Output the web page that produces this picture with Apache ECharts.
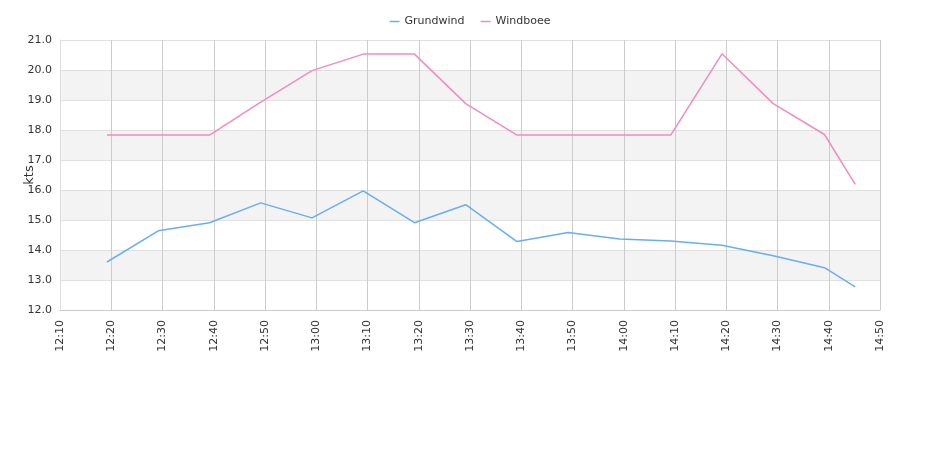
<!DOCTYPE html>
<html><head><meta charset="utf-8">
<script src="https://cdn.jsdelivr.net/npm/echarts@6/dist/echarts.min.js"></script>
<style>html,body{margin:0;padding:0;background:#fff}#c{width:940px;height:450px}</style>
</head><body><div id="c"></div>
<script>
const times = ['12:19:10','12:29:10','12:39:10','12:49:10','12:59:10','13:09:10','13:19:10','13:29:10','13:39:10','13:49:10','13:59:10','14:09:10','14:19:10','14:29:10','14:39:10','14:45:10'];
const grundwind = [13.6,14.64,14.91,15.57,15.07,15.97,14.91,15.51,14.28,14.58,14.37,14.3,14.16,13.81,13.41,12.77];
const windboee = [17.83,17.83,17.83,18.93,19.98,20.53,20.53,18.88,17.83,17.83,17.83,17.83,20.54,18.88,17.85,16.19];
const xMin = '12:10', xMax = '14:50';
const seriesNames = ['Grundwind','Windboee'];

function toMin(t){const p=t.split(':').map(Number);return p[0]*60+p[1]+(p[2]||0)/60;}
function fmt(v){const h=Math.floor(v/60),m=Math.round(v%60);return h+':'+(m<10?'0':'')+m;}

const chart = echarts.init(document.getElementById('c'));
const font = 'DejaVu Sans';
chart.setOption({
  animation:false,
  textStyle:{fontFamily:font},
  legend:{top:11,left:'center',icon:'rect',itemWidth:10,itemHeight:1.5,itemGap:16,
    textStyle:{fontSize:11,color:'#333',fontFamily:font},data:seriesNames},
  grid:{left:60,right:60,top:40,bottom:140,containLabel:false,outerBoundsMode:'none'},
  xAxis:{type:'value',min:toMin(xMin),max:toMin(xMax),interval:10,
    axisLine:{lineStyle:{color:'#ccc'}},axisTick:{show:false},
    axisLabel:{rotate:90,formatter:fmt,color:'#333',fontSize:11,fontFamily:font,margin:10},
    splitLine:{show:true,lineStyle:{color:'#ccc'}}},
  yAxis:{type:'value',min:12,max:21,interval:1,name:'kts',nameLocation:'middle',nameGap:24,nameMoveOverlap:false,
    nameTextStyle:{fontSize:13,color:'#333',fontFamily:font},
    axisLine:{show:true,lineStyle:{color:'#ddd'}},axisTick:{show:false},
    axisLabel:{formatter:v=>v.toFixed(1),color:'#333',fontSize:11,fontFamily:font},
    splitLine:{lineStyle:{color:'#e0e0e0'}},
    splitArea:{show:true,areaStyle:{color:['#ffffff','#f3f3f3']}}},
  series:[
    {name:seriesNames[0],type:'line',symbol:'none',color:'#6aaef2',lineStyle:{width:1.5,color:'#6aaef2'},
     data:times.map((t,i)=>[toMin(t),grundwind[i]])},
    {name:seriesNames[1],type:'line',symbol:'none',color:'#f08cc0',lineStyle:{width:1.5,color:'#f08cc0'},
     data:times.map((t,i)=>[toMin(t),windboee[i]])}
  ]
});
</script></body></html>
